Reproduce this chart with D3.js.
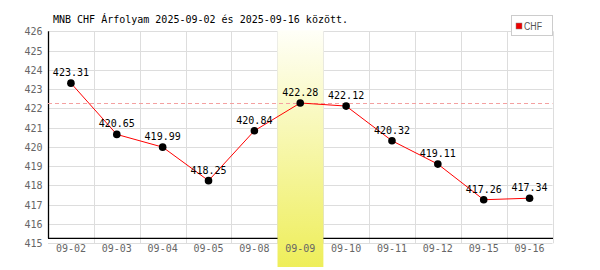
<!DOCTYPE html>
<html><head><meta charset="utf-8">
<script src="https://cdn.jsdelivr.net/npm/d3@7"></script>
<style>body{margin:0;background:#fff}svg{display:block}</style>
</head><body>
<svg id="c" width="600" height="270"></svg>
<script>
const categories = ["09-02","09-03","09-04","09-05","09-08","09-09","09-10","09-11","09-12","09-15","09-16"];
const values = [423.31,420.65,419.99,418.25,420.84,422.28,422.12,420.32,419.11,417.26,417.34];
const yTicks = [415,416,417,418,419,420,421,422,423,424,425,426];
const highlight = "09-09";
const refValue = 422.28;
const title = "MNB CHF Árfolyam 2025-09-02 és 2025-09-16 között.";
const seriesName = "CHF";

const svg = d3.select("#c");
const L = 48, R = 552.5, T = 31.3, B = 243.3, axisY = 238.3;
const mono = "'DejaVu Sans Mono', monospace";

const x = d3.scaleBand().domain(categories).range([L, R]).padding(0);
const y = d3.scaleLinear().domain([415, 426]).range([B, T]);

// grid
const g = svg.append("g");
g.selectAll(".hg").data(yTicks).join("line")
  .attr("x1", L).attr("x2", R).attr("y1", d => Math.round(y(d)) + 0.5).attr("y2", d => Math.round(y(d)) + 0.5)
  .attr("stroke", "#dddddd").attr("stroke-width", 1);
g.selectAll(".vg").data(categories).join("line")
  .attr("x1", d => Math.round(x(d) + x.bandwidth()) + 0.5).attr("x2", d => Math.round(x(d) + x.bandwidth()) + 0.5)
  .attr("y1", T).attr("y2", B)
  .attr("stroke", "#dddddd").attr("stroke-width", 1);

// axes lines
svg.append("line").attr("x1", L + 0.5).attr("x2", L + 0.5).attr("y1", T).attr("y2", axisY)
  .attr("stroke", "#000").attr("stroke-width", 1.3);
svg.append("line").attr("x1", L).attr("x2", R + 0.5).attr("y1", axisY).attr("y2", axisY)
  .attr("stroke", "#000").attr("stroke-width", 1.3);

// highlight band
const defs = svg.append("defs");
const grad = defs.append("linearGradient").attr("id", "hl").attr("x1", 0).attr("x2", 0).attr("y1", 0).attr("y2", 1);
grad.append("stop").attr("offset", "0%").attr("stop-color", "#fffff8");
grad.append("stop").attr("offset", "100%").attr("stop-color", "#eeee5a");
svg.append("rect").attr("x", x(highlight) + 0.2).attr("y", T - 1).attr("width", x.bandwidth())
  .attr("height", 267 - (T - 1)).attr("fill", "url(#hl)");

// y tick labels
svg.selectAll(".yl").data(yTicks).join("text")
  .attr("x", 42.5).attr("y", d => y(d) + 4).attr("text-anchor", "end")
  .attr("font-family", mono).attr("font-size", 10).attr("fill", "#666")
  .text(d => d);

// x tick labels
svg.selectAll(".xl").data(categories).join("text")
  .attr("x", d => x(d) + x.bandwidth() / 2).attr("y", 252).attr("text-anchor", "middle")
  .attr("font-family", mono).attr("font-size", 10).attr("fill", "#666")
  .text(d => d);

// reference dashed line
svg.append("line").attr("x1", L).attr("x2", R).attr("y1", Math.round(y(refValue)) + 0.5).attr("y2", Math.round(y(refValue)) + 0.5)
  .attr("stroke", "#f4a0a0").attr("stroke-width", 1).attr("stroke-dasharray", "4,3");

// line
const line = d3.line().x((d, i) => x(categories[i]) + x.bandwidth() / 2).y(d => y(d));
svg.append("path").datum(values).attr("d", line).attr("fill", "none").attr("stroke", "#ff0000").attr("stroke-width", 1);

// points
svg.selectAll(".pt").data(values).join("circle")
  .attr("cx", (d, i) => x(categories[i]) + x.bandwidth() / 2).attr("cy", d => y(d)).attr("r", 3.8)
  .attr("fill", "#000");

// value labels
svg.selectAll(".vl").data(values).join("text")
  .attr("x", (d, i) => x(categories[i]) + x.bandwidth() / 2).attr("y", d => y(d) - 7)
  .attr("text-anchor", "middle").attr("font-family", mono).attr("font-size", 10).attr("fill", "#000")
  .text(d => d.toFixed(2));

// title
svg.append("text").attr("x", 53).attr("y", 23).attr("font-family", mono).attr("font-size", 10).attr("fill", "#000")
  .text(title);

// legend
const lg = svg.append("g");
lg.append("rect").attr("x", 511.5).attr("y", 15.5).attr("width", 41).attr("height", 20)
  .attr("fill", "#fff").attr("stroke", "#cccccc");
lg.append("rect").attr("x", 516).attr("y", 23).attr("width", 6).attr("height", 6)
  .attr("fill", "#ee0000").attr("stroke", "#888").attr("stroke-width", 0.5);
lg.append("text").attr("x", 524).attr("y", 29.5).attr("font-family", "'Liberation Sans', Arial, sans-serif")
  .attr("font-size", 10).attr("fill", "#555").attr("textLength", 18).attr("lengthAdjust", "spacingAndGlyphs").text(seriesName);
</script>
</body></html>
